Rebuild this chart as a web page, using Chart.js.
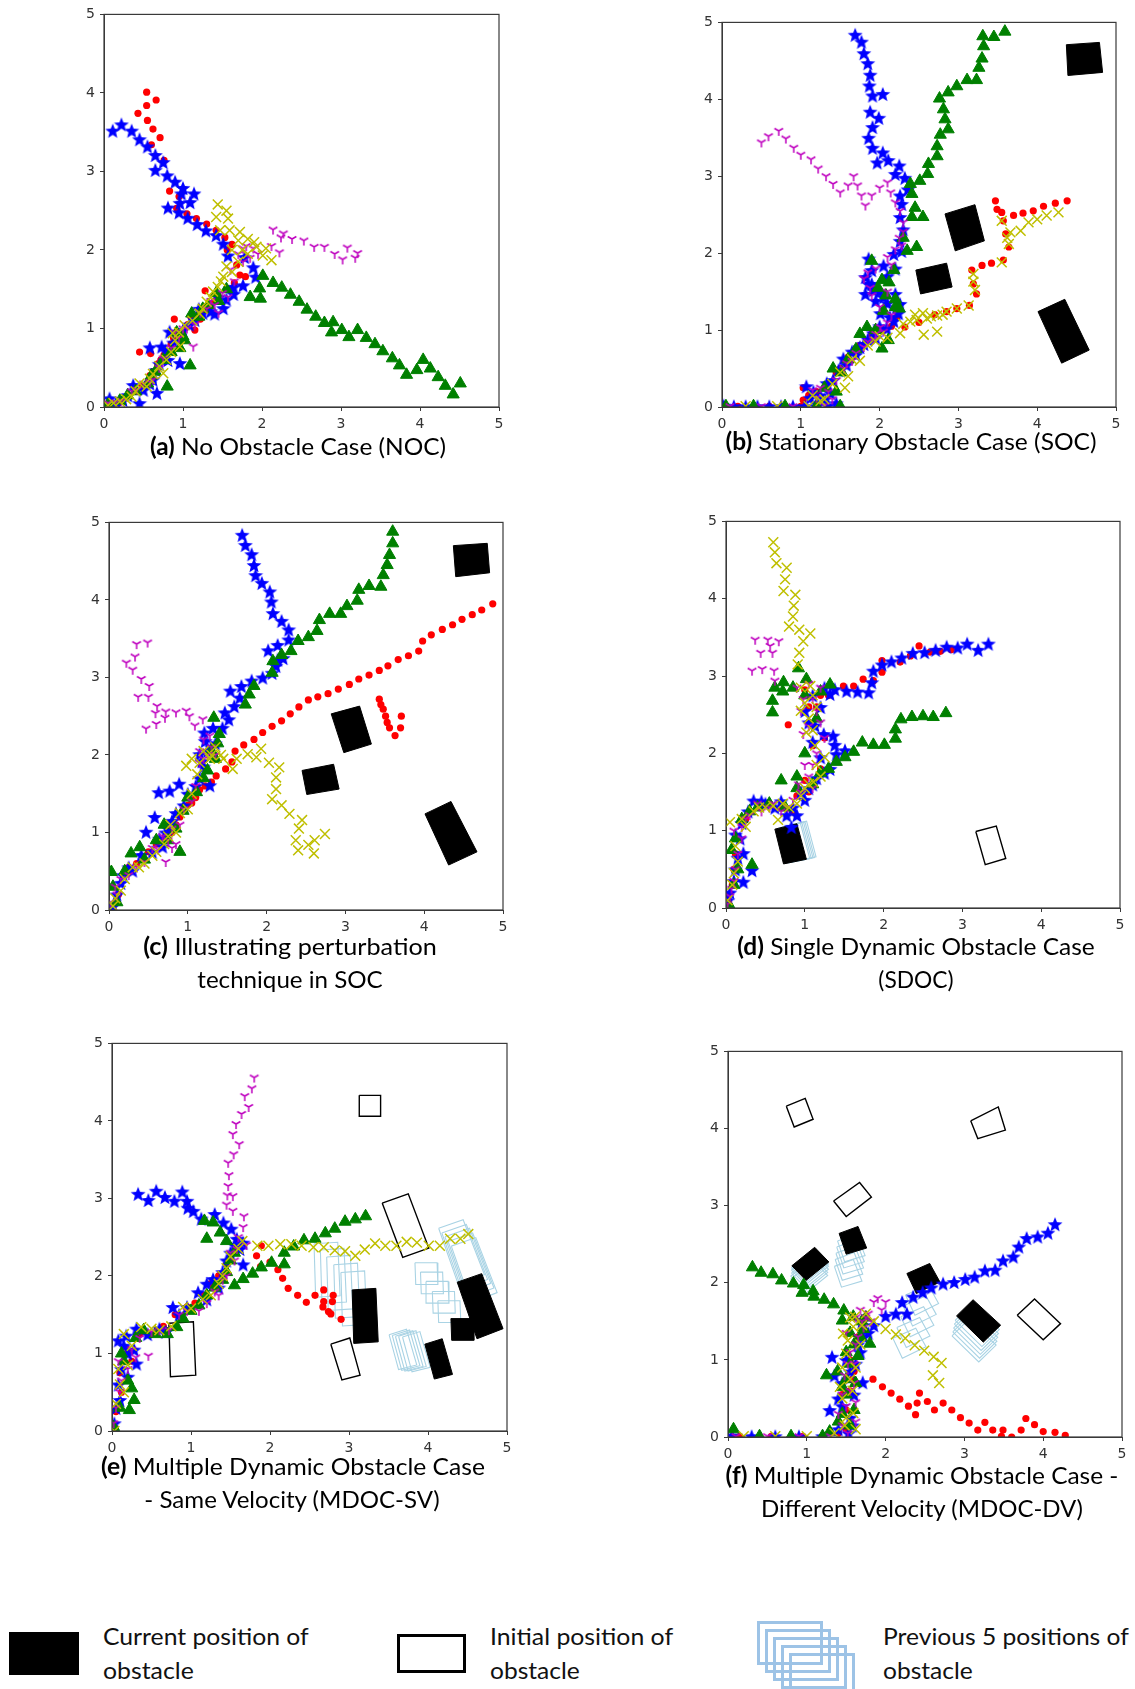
<!DOCTYPE html>
<html>
<head>
<meta charset="utf-8">
<script src="https://cdn.jsdelivr.net/npm/chart.js@4.4.1/dist/chart.umd.min.js"></script>
<style>
  html, body { margin: 0; padding: 0; background: #fff; }
  #page { position: relative; width: 1135px; height: 1689px; overflow: hidden; background: #fff; }
  canvas { position: absolute; }
  .cap, .lg { position: absolute; white-space: nowrap; line-height: 1; color: #000;
    font-family: Lato, 'Open Sans', sans-serif; font-size: 24px; }
  .lg { transform-origin: 0 50%; color: #111; }
  .sw { position: absolute; box-sizing: border-box; }
</style>
</head>
<body>
<div id="page">
  <canvas id="chartA"></canvas>
  <canvas id="chartB"></canvas>
  <canvas id="chartC"></canvas>
  <canvas id="chartD"></canvas>
  <canvas id="chartE"></canvas>
  <canvas id="chartF"></canvas>

  <div class="cap" data-x="298" data-y="446" data-w="296"><b>(a)</b> No Obstacle Case (NOC)</div>
  <div class="cap" data-x="911" data-y="441" data-w="371"><b>(b)</b> Stationary Obstacle Case (SOC)</div>
  <div class="cap" data-x="290" data-y="946" data-w="294"><b>(c)</b> Illustrating perturbation</div>
  <div class="cap" data-x="290" data-y="979" data-w="185">technique in SOC</div>
  <div class="cap" data-x="916" data-y="946" data-w="358"><b>(d)</b> Single Dynamic Obstacle Case</div>
  <div class="cap" data-x="916" data-y="979" data-w="75">(SDOC)</div>
  <div class="cap" data-x="293" data-y="1466" data-w="384"><b>(e)</b> Multiple Dynamic Obstacle Case</div>
  <div class="cap" data-x="292" data-y="1499" data-w="295">- Same Velocity (MDOC-SV)</div>
  <div class="cap" data-x="922" data-y="1475" data-w="393"><b>(f)</b> Multiple Dynamic Obstacle Case -</div>
  <div class="cap" data-x="922" data-y="1508" data-w="322">Different Velocity (MDOC-DV)</div>

  <div class="sw" style="left:9px;top:1632px;width:70px;height:43px;background:#000;"></div>
  <div class="lg" data-x="103" data-y="1636" data-w="206">Current position of</div>
  <div class="lg" data-x="103" data-y="1670" data-w="91">obstacle</div>

  <div class="sw" style="left:397px;top:1634px;width:69px;height:39px;border:3px solid #000;"></div>
  <div class="lg" data-x="490" data-y="1636" data-w="183">Initial position of</div>
  <div class="lg" data-x="490" data-y="1670" data-w="90">obstacle</div>

  <div id="prevIcon"></div>
  <div class="lg" data-x="883" data-y="1636" data-w="246">Previous 5 positions of</div>
  <div class="lg" data-x="883" data-y="1670" data-w="90">obstacle</div>
</div>

<script>
'use strict';

// tick labels shared by every panel
const axisTicks = [0, 1, 2, 3, 4, 5];

// (a) no obstacle
const aRed = [[0.03,0.03],[0.1,0.04],[0.18,0.05],[0.25,0.1],[0.32,0.14],[0.4,0.2],[0.48,0.27],[0.58,0.4],[0.62,0.45],[0.59,0.68],[0.45,0.7],[0.68,0.55],[0.72,0.6],[0.76,0.66],[0.85,0.8],[0.89,1.12],[0.88,0.88],[0.98,0.95],[1.06,1.05],[1.1,1.15],[1.15,0.98],[1.22,1.12],[1.25,1.25],[1.28,1.48],[1.35,1.3],[1.4,1.35],[1.45,1.4],[1.55,1.5],[1.6,1.5],[1.65,1.58],[1.72,1.68],[1.79,1.66],[1.68,1.81],[1.56,2.0],[1.62,2.07],[1.53,2.16],[1.42,2.25],[1.3,2.33],[1.17,2.4],[1.05,2.46],[0.92,2.53],[0.95,2.68],[0.83,2.75],[0.76,3.14],[0.6,3.34],[0.71,3.43],[0.62,3.54],[0.55,3.65],[0.43,3.74],[0.54,3.84],[0.66,3.91],[0.54,4.01]];
const aBlue = [[0.07,0.11],[0.1,0.05],[0.15,0.05],[0.24,0.09],[0.3,0.15],[0.37,0.28],[0.45,0.05],[0.5,0.22],[0.58,0.3],[0.62,0.35],[0.67,0.18],[0.66,0.47],[0.7,0.55],[0.78,0.72],[0.81,0.6],[0.88,0.82],[0.96,0.56],[0.58,0.76],[0.73,0.77],[0.83,0.96],[0.96,0.9],[1.0,0.98],[1.08,1.05],[1.15,1.11],[1.2,1.25],[1.25,1.2],[1.32,1.28],[1.35,1.22],[1.4,1.19],[1.45,1.4],[1.51,1.26],[1.55,1.37],[1.64,1.44],[1.64,1.53],[1.76,1.55],[1.92,1.66],[1.89,1.78],[1.78,1.91],[1.57,1.93],[1.51,2.08],[1.42,2.19],[1.29,2.25],[1.18,2.33],[1.06,2.41],[0.95,2.48],[0.81,2.54],[0.96,2.6],[1.09,2.61],[0.98,2.72],[1.14,2.72],[1.0,2.79],[0.9,2.87],[0.8,2.95],[0.65,3.02],[0.75,3.12],[0.65,3.21],[0.55,3.32],[0.45,3.41],[0.35,3.52],[0.22,3.6],[0.11,3.52]];
const aGreen = [[0.05,0.03],[0.2,0.08],[0.3,0.15],[0.4,0.2],[0.55,0.3],[0.6,0.4],[0.8,0.26],[0.65,0.45],[0.75,0.6],[0.85,0.7],[0.96,0.75],[1.0,0.9],[1.09,0.53],[1.02,0.85],[0.92,0.95],[1.11,1.19],[1.2,1.15],[1.25,1.25],[1.32,1.3],[1.42,1.45],[1.45,1.35],[1.55,1.5],[1.85,1.4],[1.98,1.38],[1.97,1.51],[2.01,1.67],[2.14,1.58],[2.25,1.52],[2.36,1.43],[2.47,1.34],[2.57,1.24],[2.68,1.15],[2.79,1.07],[2.9,1.08],[2.88,0.95],[3.01,0.98],[3.1,0.89],[3.21,0.98],[3.32,0.88],[3.43,0.8],[3.53,0.71],[3.65,0.62],[3.74,0.53],[3.83,0.41],[3.96,0.47],[4.04,0.6],[4.13,0.49],[4.23,0.38],[4.32,0.27],[4.42,0.16],[4.51,0.3]];
const aMagenta = [[0.05,0.05],[0.15,0.06],[0.22,0.08],[0.35,0.2],[0.42,0.22],[0.5,0.3],[0.58,0.32],[0.62,0.35],[0.7,0.5],[0.75,0.62],[0.85,0.75],[0.9,0.95],[0.95,0.88],[1.0,1.0],[1.13,0.77],[1.05,1.0],[1.15,1.05],[1.22,1.2],[1.3,1.25],[1.35,1.35],[1.4,1.3],[1.45,1.2],[1.5,1.45],[1.57,1.4],[1.6,1.75],[1.65,1.6],[1.7,1.95],[1.76,1.85],[1.8,2.05],[1.85,1.9],[1.95,1.95],[1.76,2.02],[1.89,2.02],[2.12,2.05],[2.22,1.97],[2.14,2.26],[2.24,2.16],[2.27,2.21],[2.38,2.14],[2.53,2.12],[2.66,2.04],[2.79,2.04],[2.92,1.95],[3.02,1.88],[3.08,2.03],[3.18,1.9],[3.21,1.96]];
const aYellow = [[0.05,0.02],[0.12,0.05],[0.2,0.07],[0.28,0.1],[0.35,0.13],[0.4,0.2],[0.45,0.3],[0.54,0.26],[0.58,0.36],[0.62,0.42],[0.7,0.52],[0.75,0.43],[0.79,0.6],[0.85,0.7],[0.87,0.94],[0.96,0.77],[0.9,0.85],[0.95,0.95],[1.02,1.04],[1.12,1.1],[1.21,1.19],[1.25,1.25],[1.3,1.34],[1.35,1.4],[1.38,1.47],[1.44,1.53],[1.48,1.6],[1.51,1.66],[1.55,1.79],[1.62,1.72],[1.7,1.85],[1.62,2.0],[1.75,2.0],[1.82,1.95],[1.9,2.1],[1.93,2.04],[2.05,2.02],[2.01,1.93],[2.12,1.87],[1.82,2.14],[1.72,2.23],[1.7,2.12],[1.59,2.25],[1.47,2.25],[1.57,2.4],[1.42,2.42],[1.55,2.5],[1.44,2.58]];

// (b) stationary obstacles
const bRed = [[0.2,0.01],[0.6,0.01],[1.0,0.01],[1.03,0.09],[1.03,0.25],[1.1,0.15],[1.2,0.2],[1.35,0.3],[1.45,0.45],[1.5,0.5],[1.6,0.65],[1.75,0.8],[1.9,0.9],[1.9,0.95],[2.05,1.0],[2.15,1.05],[2.22,1.17],[2.32,1.04],[2.5,1.1],[2.7,1.2],[2.85,1.24],[2.98,1.28],[3.14,1.32],[3.23,1.47],[3.19,1.6],[3.17,1.78],[3.3,1.84],[3.42,1.87],[3.57,1.91],[3.64,2.08],[3.6,2.25],[3.57,2.42],[3.49,2.57],[3.47,2.68],[3.55,2.53],[3.7,2.49],[3.82,2.52],[3.95,2.55],[4.08,2.61],[4.23,2.65],[4.38,2.68]];
const bBlue = [[0.02,0.02],[0.15,0.01],[0.3,0.01],[0.45,0.01],[0.6,0.01],[0.75,0.01],[0.9,0.01],[1.05,0.01],[1.2,0.01],[1.35,0.02],[1.45,0.05],[1.07,0.27],[1.12,0.12],[1.16,0.2],[1.2,0.05],[1.25,0.15],[1.3,0.1],[1.33,0.31],[1.38,0.18],[1.41,0.35],[1.48,0.48],[1.54,0.63],[1.58,0.55],[1.65,0.72],[1.7,0.68],[1.75,0.78],[1.8,0.82],[1.85,0.88],[1.92,0.96],[1.95,0.9],[2.0,1.05],[2.09,1.02],[2.18,1.12],[2.01,1.22],[2.13,1.17],[2.24,1.22],[2.22,1.3],[2.1,1.35],[1.95,1.38],[2.26,1.34],[2.2,1.47],[2.05,1.43],[1.92,1.52],[2.0,1.5],[1.82,1.47],[1.86,1.6],[1.9,1.6],[2.1,1.7],[1.82,1.69],[1.9,1.78],[2.2,1.8],[1.86,1.93],[2.05,1.84],[2.18,1.99],[2.28,2.03],[2.26,2.16],[2.3,2.31],[2.26,2.47],[2.28,2.64],[2.26,2.75],[2.36,2.83],[2.32,2.98],[2.2,3.03],[2.25,3.14],[2.11,3.21],[1.97,3.18],[2.04,3.31],[1.91,3.37],[1.86,3.5],[1.91,3.64],[1.99,3.76],[1.88,3.84],[2.04,4.07],[1.91,4.05],[1.87,4.18],[1.88,4.32],[1.85,4.47],[1.8,4.6],[1.77,4.75],[1.69,4.84]];
const bGreen = [[0.05,0.01],[0.4,0.01],[0.8,0.01],[1.2,0.01],[1.5,0.01],[1.3,0.25],[1.45,0.2],[1.41,0.5],[1.52,0.45],[1.6,0.62],[1.7,0.75],[1.75,0.95],[1.84,1.04],[2.03,0.76],[2.11,0.87],[1.95,1.0],[2.05,1.25],[2.2,1.3],[2.25,1.28],[2.2,1.4],[2.08,1.45],[1.98,1.55],[2.12,1.62],[2.03,1.65],[2.18,1.78],[1.9,1.9],[2.35,2.03],[2.47,2.08],[2.3,2.2],[2.41,2.47],[2.55,2.47],[2.45,2.59],[2.41,2.77],[2.39,2.9],[2.51,2.94],[2.61,3.03],[2.62,3.16],[2.73,3.26],[2.73,3.39],[2.77,3.54],[2.87,3.61],[2.83,3.74],[2.81,3.87],[2.76,4.01],[2.87,4.09],[2.98,4.17],[3.11,4.25],[3.23,4.25],[3.26,4.41],[3.3,4.53],[3.32,4.69],[3.31,4.82],[3.45,4.81],[3.59,4.88]];
const bMagenta = [[0.1,0.01],[0.5,0.01],[0.9,0.01],[1.3,0.02],[1.2,0.12],[1.15,0.22],[1.25,0.25],[1.35,0.2],[1.4,0.1],[1.45,0.35],[1.55,0.5],[1.58,0.57],[1.65,0.6],[1.7,0.7],[1.8,0.78],[1.85,0.85],[1.92,0.88],[2.01,1.04],[1.95,0.95],[2.05,0.98],[2.1,1.1],[2.15,1.2],[2.0,1.3],[1.9,1.45],[1.88,1.55],[2.1,1.5],[1.8,1.67],[1.85,1.75],[1.95,1.8],[2.15,1.85],[2.1,1.95],[2.2,2.05],[2.28,2.1],[2.25,2.2],[2.3,2.28],[2.3,2.4],[2.26,2.55],[2.2,2.66],[2.14,2.79],[2.1,2.92],[2.0,2.85],[1.9,2.75],[1.82,2.62],[1.77,2.75],[1.72,2.88],[1.67,3.0],[1.6,2.88],[1.5,2.79],[1.41,2.9],[1.32,3.0],[1.22,3.1],[1.13,3.22],[1.0,3.28],[0.91,3.37],[0.81,3.49],[0.72,3.59],[0.59,3.52],[0.5,3.44]];
const bYellow = [[0.3,0.01],[0.7,0.01],[1.1,0.01],[1.15,0.15],[1.25,0.08],[1.3,0.1],[1.4,0.3],[1.5,0.45],[1.56,0.25],[1.6,0.4],[1.65,0.62],[1.75,0.6],[1.85,0.8],[1.95,0.85],[2.0,0.92],[2.1,0.9],[2.26,0.96],[2.3,1.08],[2.39,1.11],[2.45,1.2],[2.47,1.13],[2.55,1.22],[2.56,0.94],[2.6,1.15],[2.65,1.18],[2.73,0.98],[2.73,1.19],[2.8,1.2],[2.85,1.24],[2.98,1.28],[3.13,1.32],[3.21,1.52],[3.19,1.63],[3.19,1.73],[3.55,1.88],[3.64,2.12],[3.62,2.2],[3.55,2.42],[3.66,2.27],[3.79,2.29],[3.89,2.4],[4.0,2.44],[4.12,2.49],[4.27,2.53]];
const bCurrent = [
  [[4.37,4.71],[4.79,4.74],[4.83,4.35],[4.39,4.31]],
  [[2.83,2.51],[3.21,2.63],[3.33,2.16],[2.96,2.03]],
  [[2.46,1.78],[2.85,1.87],[2.92,1.56],[2.52,1.47]],
  [[4.01,1.24],[4.35,1.4],[4.66,0.74],[4.31,0.57]]
];

// (c) perturbation in SOC
const cRed = [[0.05,0.02],[0.12,0.2],[0.2,0.45],[0.25,0.55],[0.35,0.6],[0.5,0.75],[0.6,0.85],[0.65,0.9],[0.72,0.95],[0.8,1.0],[0.85,1.1],[0.9,1.2],[1.0,1.35],[1.05,1.38],[1.1,1.45],[1.15,1.55],[1.22,1.6],[1.3,1.65],[1.36,1.73],[1.48,1.82],[1.56,1.91],[1.6,2.05],[1.71,2.13],[1.84,2.2],[1.95,2.29],[2.07,2.37],[2.19,2.44],[2.3,2.53],[2.41,2.62],[2.53,2.71],[2.65,2.75],[2.78,2.79],[2.91,2.85],[3.05,2.91],[3.17,2.98],[3.3,3.03],[3.43,3.09],[3.54,3.15],[3.67,3.23],[3.8,3.28],[3.93,3.34],[3.98,3.47],[4.09,3.55],[4.23,3.62],[4.36,3.68],[4.48,3.75],[4.61,3.81],[4.73,3.87],[4.87,3.95],[3.43,2.72],[3.45,2.65],[3.48,2.59],[3.51,2.5],[3.53,2.42],[3.56,2.35],[3.63,2.25],[3.71,2.5],[3.7,2.35]];
const cBlue = [[0.05,0.05],[0.1,0.2],[0.15,0.35],[0.18,0.45],[0.25,0.55],[0.3,0.51],[0.41,0.71],[0.55,0.75],[0.68,0.82],[0.47,1.01],[0.64,0.92],[0.72,1.0],[0.58,1.2],[0.75,1.05],[0.8,1.15],[0.85,1.25],[0.95,1.35],[0.63,1.52],[0.77,1.54],[0.89,1.63],[1.0,1.5],[1.1,1.6],[1.15,1.7],[1.28,1.61],[1.2,1.85],[1.18,1.92],[1.15,2.01],[1.25,2.05],[1.3,2.1],[1.35,2.15],[1.22,2.18],[1.21,2.29],[1.32,2.35],[1.44,2.35],[1.52,2.46],[1.47,2.55],[1.59,2.63],[1.66,2.74],[1.54,2.83],[1.68,2.89],[1.81,2.96],[1.95,3.0],[2.07,3.06],[2.12,3.15],[2.21,3.25],[2.14,3.23],[2.02,3.35],[2.14,3.42],[2.28,3.49],[2.28,3.62],[2.19,3.73],[2.08,3.83],[2.06,3.98],[2.04,4.11],[1.94,4.22],[1.86,4.32],[1.84,4.45],[1.81,4.59],[1.73,4.71],[1.69,4.84]];
const cGreen = [[0.03,0.49],[0.05,0.3],[0.1,0.1],[0.2,0.5],[0.28,0.73],[0.39,0.81],[0.45,0.65],[0.6,0.9],[0.75,0.9],[0.9,0.75],[0.7,1.1],[0.85,1.05],[0.94,1.28],[1.0,1.45],[1.11,1.52],[1.2,1.7],[1.25,1.8],[1.35,1.95],[1.3,2.05],[1.38,2.15],[1.4,2.27],[1.33,2.48],[1.73,2.65],[1.78,2.78],[1.84,2.89],[2.07,3.06],[2.08,3.21],[2.19,3.29],[2.31,3.34],[2.4,3.47],[2.53,3.52],[2.64,3.6],[2.67,3.74],[2.8,3.82],[2.94,3.82],[3.02,3.92],[3.15,3.99],[3.17,4.13],[3.3,4.18],[3.45,4.17],[3.48,4.32],[3.53,4.45],[3.56,4.58],[3.6,4.73],[3.6,4.88]];
const cMagenta = [[0.02,0.1],[0.1,0.2],[0.08,0.3],[0.15,0.4],[0.25,0.45],[0.35,0.55],[0.45,0.62],[0.55,0.8],[0.62,0.78],[0.72,0.62],[0.68,0.95],[0.75,0.9],[0.8,1.05],[0.8,0.8],[0.85,0.85],[0.9,1.1],[0.95,1.3],[1.05,1.4],[1.1,1.6],[1.15,1.9],[1.2,1.95],[1.25,2.0],[1.35,2.0],[1.3,2.1],[1.15,2.05],[1.28,2.25],[1.2,2.2],[1.19,2.46],[1.09,2.38],[1.02,2.5],[0.98,2.57],[0.85,2.55],[0.72,2.56],[0.71,2.48],[0.6,2.4],[0.47,2.34],[0.59,2.54],[0.61,2.63],[0.5,2.75],[0.37,2.75],[0.51,2.89],[0.41,2.98],[0.3,3.1],[0.22,3.19],[0.33,3.27],[0.35,3.43],[0.49,3.45]];
const cYellow = [[0.05,0.05],[0.08,0.15],[0.15,0.25],[0.2,0.4],[0.3,0.55],[0.38,0.55],[0.45,0.6],[0.55,0.7],[0.6,0.75],[0.7,0.85],[0.75,0.95],[0.78,1.1],[0.85,1.0],[0.9,1.25],[1.0,1.3],[1.05,1.5],[1.12,1.75],[1.05,1.95],[0.98,1.86],[1.15,1.9],[1.2,2.05],[1.28,1.95],[1.3,2.0],[1.35,2.1],[1.42,2.0],[1.45,1.95],[1.57,1.82],[1.62,1.95],[1.76,2.01],[1.87,1.97],[1.93,2.08],[2.03,1.9],[2.16,1.84],[2.12,1.71],[2.12,1.56],[2.07,1.43],[2.19,1.35],[2.29,1.24],[2.45,1.16],[2.41,1.05],[2.37,0.9],[2.4,0.77],[2.53,0.84],[2.61,0.9],[2.6,0.73],[2.74,0.98]];
const cCurrent = [
  [[4.37,4.7],[4.8,4.73],[4.83,4.35],[4.4,4.3]],
  [[2.82,2.53],[3.18,2.63],[3.33,2.14],[2.98,2.03]],
  [[2.45,1.8],[2.85,1.88],[2.92,1.56],[2.51,1.49]],
  [[4.01,1.24],[4.34,1.4],[4.67,0.75],[4.31,0.58]]
];

// (d) single dynamic obstacle
const dRed = [[0.03,0.1],[0.08,0.3],[0.1,0.5],[0.12,0.7],[0.15,0.9],[0.25,1.15],[0.3,1.25],[0.45,1.32],[0.55,1.35],[0.7,1.3],[0.85,1.25],[0.9,1.45],[1.0,1.65],[1.05,1.5],[1.2,1.8],[1.1,2.1],[1.25,2.2],[1.05,2.4],[0.79,2.37],[1.05,2.6],[1.15,2.6],[1.2,2.75],[1.3,2.75],[1.0,2.82],[1.49,2.87],[1.62,2.87],[1.74,2.96],[1.87,2.94],[1.98,3.05],[1.98,3.2],[2.21,3.18],[2.34,3.26],[2.45,3.39],[2.59,3.31],[2.72,3.32],[2.86,3.34]];
const dBlue = [[0.02,0.1],[0.05,0.2],[0.1,0.35],[0.12,0.5],[0.22,0.34],[0.33,0.49],[0.15,0.65],[0.22,0.71],[0.18,0.9],[0.12,0.95],[0.2,1.1],[0.28,1.25],[0.35,1.39],[0.45,1.38],[0.5,1.35],[0.62,1.3],[0.7,1.38],[0.85,1.3],[0.77,1.2],[0.83,1.05],[0.9,1.2],[0.95,1.5],[1.0,1.4],[1.05,1.55],[1.1,1.6],[1.15,1.68],[1.25,1.75],[1.32,1.8],[1.2,1.95],[1.4,1.99],[1.51,2.04],[1.38,2.11],[1.1,2.15],[1.36,2.23],[1.24,2.25],[1.13,2.36],[1.05,2.4],[1.0,2.55],[1.2,2.6],[1.1,2.75],[1.32,2.77],[1.25,2.85],[1.38,2.83],[1.53,2.81],[1.67,2.8],[1.81,2.79],[1.85,2.92],[1.87,3.07],[1.98,3.15],[2.1,3.19],[2.23,3.24],[2.37,3.3],[2.52,3.31],[2.66,3.34],[2.8,3.38],[2.94,3.37],[3.06,3.42],[3.2,3.34],[3.33,3.42]];
const dGreen = [[0.05,0.02],[0.1,0.3],[0.15,0.5],[0.07,0.75],[0.12,0.9],[0.33,0.56],[0.2,1.15],[0.3,1.25],[0.4,1.3],[0.55,1.35],[0.75,1.3],[0.9,1.55],[0.7,1.65],[0.9,1.7],[1.1,1.6],[1.2,1.75],[1.3,1.8],[1.0,2.0],[1.4,1.89],[1.51,1.95],[1.62,2.02],[1.73,2.14],[1.87,2.11],[2.01,2.11],[2.15,2.19],[2.15,2.31],[2.22,2.44],[2.36,2.47],[2.5,2.48],[2.63,2.47],[2.79,2.52],[1.15,2.45],[1.0,2.75],[0.85,2.85],[0.59,2.53],[0.59,2.68],[0.62,2.85],[0.73,2.92],[0.72,2.8],[0.92,3.1],[1.02,2.96],[1.32,2.89],[1.2,2.8]];
const dMagenta = [[0.02,0.05],[0.05,0.15],[0.07,0.25],[0.1,0.35],[0.12,0.5],[0.15,0.7],[0.2,0.9],[0.1,1.0],[0.2,1.05],[0.25,1.15],[0.3,1.2],[0.4,1.35],[0.45,1.25],[0.55,1.3],[0.6,1.35],[0.7,1.25],[0.78,1.3],[0.85,1.4],[0.95,1.5],[0.92,1.6],[1.1,1.55],[1.05,1.7],[1.0,1.85],[1.1,1.85],[1.15,2.0],[1.25,2.2],[0.98,2.25],[1.05,2.35],[1.2,2.4],[0.95,2.55],[1.15,2.55],[0.98,2.7],[1.1,2.7],[0.9,2.85],[1.05,2.9],[1.2,2.85],[0.62,2.94],[0.61,3.07],[0.33,3.07],[0.46,3.09],[0.59,3.3],[0.44,3.3],[0.56,3.39],[0.37,3.47],[0.53,3.47],[0.67,3.45]];
const dYellow = [[0.02,0.1],[0.08,0.3],[0.1,0.45],[0.15,0.6],[0.12,0.8],[0.25,1.05],[0.05,1.11],[0.2,1.15],[0.35,1.25],[0.42,1.3],[0.5,1.3],[0.6,1.32],[0.66,1.14],[0.72,1.35],[0.8,1.3],[0.9,1.35],[0.95,1.45],[1.0,1.55],[1.05,1.6],[1.11,1.63],[1.2,1.7],[1.15,1.85],[1.25,1.95],[1.13,2.1],[1.02,2.27],[1.1,2.3],[1.05,2.45],[0.95,2.55],[1.15,2.6],[1.0,2.65],[1.07,2.87],[1.1,2.75],[0.95,2.85],[0.91,3.15],[0.93,3.3],[0.98,3.45],[1.07,3.55],[0.93,3.6],[0.8,3.64],[0.85,3.77],[0.86,3.91],[0.88,4.05],[0.73,4.1],[0.75,4.25],[0.77,4.4],[0.64,4.46],[0.62,4.6],[0.6,4.73]];
const dCurrent = [[[0.62,1.02],[0.9,1.09],[1.02,0.63],[0.73,0.57]]];
const dInitial = [[[3.17,0.99],[3.43,1.06],[3.55,0.64],[3.29,0.56]]];
const dPrevCenters = [[[0.94,0.86],[0.92,0.85],[0.9,0.85],[0.88,0.84],[0.86,0.84]]];

// (e) multiple dynamic obstacles, same velocity
const eRed = [[0.03,0.05],[0.05,0.25],[0.12,0.5],[0.1,0.75],[0.25,0.9],[0.2,1.05],[0.35,1.25],[0.5,1.25],[0.65,1.35],[0.8,1.5],[0.95,1.6],[1.05,1.65],[1.15,1.75],[1.25,1.9],[1.35,2.0],[1.45,2.15],[1.5,2.25],[1.6,2.35],[1.89,2.39],[1.83,2.26],[1.88,2.12],[2.0,2.18],[2.1,2.08],[2.16,1.97],[2.23,1.84],[2.35,1.75],[2.46,1.66],[2.57,1.75],[2.68,1.82],[2.8,1.75],[2.68,1.67],[2.79,1.67],[2.67,1.6],[2.74,1.54],[2.77,1.51],[2.9,1.44]];
const eBlue = [[0.03,0.1],[0.05,0.3],[0.1,0.4],[0.08,0.6],[0.2,0.7],[0.12,0.8],[0.31,0.87],[0.2,1.0],[0.28,1.05],[0.15,1.1],[0.08,1.17],[0.18,1.23],[0.31,1.32],[0.45,1.25],[0.6,1.32],[0.68,1.28],[0.77,1.6],[0.85,1.5],[0.95,1.6],[1.09,1.79],[1.2,1.7],[1.2,1.9],[1.28,1.96],[1.35,1.85],[1.4,2.05],[1.45,2.2],[1.5,2.3],[1.66,2.15],[1.55,2.4],[1.62,2.35],[1.58,2.48],[1.66,2.43],[1.51,2.61],[1.41,2.69],[1.3,2.8],[1.13,2.74],[1.03,2.84],[0.96,2.88],[0.95,2.97],[0.89,3.09],[0.79,2.97],[0.67,3.02],[0.56,3.1],[0.46,2.98],[0.33,3.06]];
const eGreen = [[0.02,0.05],[0.1,0.3],[0.22,0.27],[0.28,0.4],[0.25,0.55],[0.2,0.65],[0.15,0.9],[0.12,1.0],[0.3,1.2],[0.4,1.3],[0.55,1.25],[0.7,1.25],[0.82,1.34],[0.9,1.45],[1.0,1.55],[1.1,1.62],[1.2,1.75],[1.3,1.85],[1.4,1.95],[1.45,2.05],[1.5,2.2],[1.55,2.3],[1.55,1.88],[1.66,1.96],[1.78,2.03],[1.89,2.11],[2.02,2.17],[2.18,2.15],[2.18,2.3],[2.3,2.38],[2.43,2.46],[2.57,2.48],[2.7,2.55],[2.82,2.61],[2.95,2.7],[3.08,2.73],[3.21,2.77],[1.28,2.69],[1.17,2.71],[1.2,2.48],[1.37,2.56],[1.45,2.45]];
const eMagenta = [[0.02,0.1],[0.05,0.3],[0.1,0.5],[0.12,0.65],[0.2,0.8],[0.08,0.9],[0.3,0.95],[0.46,0.97],[0.25,1.05],[0.35,1.2],[0.5,1.28],[0.6,1.3],[0.72,1.3],[0.85,1.5],[0.95,1.55],[1.1,1.55],[1.2,1.65],[1.3,1.8],[1.35,1.75],[1.4,1.95],[1.45,2.0],[1.55,2.2],[1.5,2.3],[1.58,2.35],[1.6,2.5],[1.7,2.4],[1.66,2.63],[1.67,2.77],[1.53,2.84],[1.45,2.92],[1.53,3.03],[1.46,3.04],[1.47,3.16],[1.48,3.3],[1.47,3.46],[1.54,3.57],[1.61,3.7],[1.53,3.83],[1.57,3.96],[1.64,4.09],[1.73,4.18],[1.68,4.32],[1.77,4.42],[1.8,4.56]];
const eYellow = [[0.03,0.0],[0.05,0.35],[0.15,0.5],[0.1,0.6],[0.08,0.8],[0.2,0.85],[0.25,1.1],[0.15,1.25],[0.37,1.34],[0.5,1.32],[0.6,1.3],[0.75,1.35],[0.9,1.6],[1.0,1.58],[1.15,1.7],[1.25,1.75],[1.35,1.9],[1.4,2.0],[1.45,2.1],[1.5,2.25],[1.6,2.35],[1.65,2.45],[1.84,2.39],[1.98,2.39],[2.13,2.41],[2.27,2.41],[2.4,2.39],[2.55,2.37],[2.68,2.37],[2.82,2.33],[2.95,2.32],[3.08,2.26],[3.2,2.34],[3.33,2.42],[3.46,2.39],[3.6,2.39],[3.73,2.44],[3.86,2.43],[4.01,2.39],[4.15,2.39],[4.28,2.48],[4.41,2.48],[4.51,2.54]];
const eCurrent = [
  [[3.04,1.82],[3.34,1.84],[3.37,1.15],[3.06,1.13]],
  [[3.96,1.12],[4.18,1.19],[4.31,0.73],[4.08,0.67]],
  [[4.37,1.92],[4.68,2.03],[4.95,1.32],[4.62,1.19]],
  [[4.29,1.45],[4.57,1.45],[4.58,1.17],[4.3,1.17]]
];
const eInitial = [
  [[0.72,1.39],[1.03,1.41],[1.06,0.72],[0.74,0.7]],
  [[3.13,4.33],[3.4,4.33],[3.4,4.06],[3.13,4.06]],
  [[3.42,2.94],[3.75,3.06],[4.01,2.36],[3.68,2.24]],
  [[2.77,1.12],[3.01,1.2],[3.14,0.72],[2.91,0.66]]
];
const ePrevCenters = [
  [[2.72,2.08],[2.8,2.0],[2.88,1.91],[2.97,1.81],[3.06,1.71]],
  [[3.68,1.05],[3.72,1.04],[3.76,1.03],[3.8,1.03],[3.85,1.02]],
  [[4.42,2.31],[4.46,2.25],[4.5,2.2],[4.54,2.14],[4.58,2.08]],
  [[3.98,2.03],[4.05,1.91],[4.12,1.79],[4.2,1.66],[4.27,1.54]]
];

// (f) multiple dynamic obstacles, different velocity
const fRed = [[0.15,0.01],[0.55,0.01],[0.95,0.01],[1.4,0.05],[1.5,0.1],[1.5,0.35],[1.45,0.55],[1.55,0.6],[1.58,0.75],[1.6,0.85],[1.55,1.0],[1.65,1.3],[1.84,0.75],[1.96,0.65],[2.07,0.57],[2.18,0.49],[2.29,0.4],[2.38,0.29],[2.4,0.44],[2.43,0.57],[2.53,0.46],[2.62,0.35],[2.73,0.44],[2.84,0.35],[2.95,0.25],[3.06,0.18],[3.17,0.09],[3.26,0.19],[3.36,0.09],[3.47,0.01],[3.49,0.09],[3.6,0.0],[3.72,0.09],[3.78,0.24],[3.89,0.16],[4.0,0.07],[4.15,0.06],[4.28,0.02]];
const fBlue = [[0.05,0.02],[0.3,0.01],[0.6,0.01],[0.9,0.01],[1.2,0.01],[1.4,0.1],[1.53,0.05],[1.58,0.15],[1.55,0.25],[1.29,0.35],[1.4,0.5],[1.45,0.4],[1.6,0.55],[1.45,0.7],[1.35,0.8],[1.55,0.85],[1.62,0.95],[1.32,1.04],[1.5,1.0],[1.68,1.1],[1.71,0.71],[1.65,1.2],[1.72,1.3],[1.78,1.35],[1.7,1.5],[1.85,1.45],[2.0,1.57],[2.13,1.6],[2.27,1.6],[2.21,1.75],[2.35,1.82],[2.47,1.88],[2.58,1.94],[2.73,1.99],[2.87,2.01],[3.01,2.05],[3.13,2.08],[3.26,2.16],[3.39,2.17],[3.49,2.29],[3.62,2.34],[3.69,2.47],[3.79,2.58],[3.93,2.6],[4.06,2.65],[4.15,2.76]];
const fGreen = [[0.07,0.1],[0.4,0.01],[0.8,0.01],[1.2,0.01],[1.29,0.07],[1.4,0.2],[1.55,0.15],[1.45,0.3],[1.6,0.35],[1.5,0.55],[1.45,0.65],[1.62,0.7],[1.5,0.75],[1.25,0.8],[1.39,0.85],[1.55,0.95],[1.65,1.05],[1.5,1.1],[1.6,1.2],[1.68,1.3],[1.55,1.35],[1.72,1.4],[1.8,1.21],[1.7,1.5],[1.75,1.55],[1.45,1.51],[1.59,1.56],[1.47,1.64],[1.34,1.72],[1.22,1.78],[1.09,1.82],[1.08,1.89],[0.94,1.87],[0.96,1.97],[0.83,1.99],[0.68,2.03],[0.57,2.11],[0.42,2.13],[0.31,2.2]];
const fMagenta = [[0.1,0.01],[0.5,0.01],[0.9,0.01],[1.3,0.01],[1.52,0.05],[1.45,0.15],[1.62,0.2],[1.4,0.3],[1.5,0.4],[1.62,0.45],[1.45,0.55],[1.55,0.6],[1.6,0.7],[1.48,0.8],[1.6,0.95],[1.52,0.95],[1.55,1.1],[1.62,1.2],[1.65,1.3],[1.5,1.35],[1.72,1.42],[1.7,1.5],[1.82,1.5],[1.62,1.55],[1.78,1.6],[1.68,1.65],[1.85,1.75],[1.95,1.65],[2.0,1.75],[1.9,1.8],[1.75,1.55]];
const fYellow = [[0.2,0.01],[0.6,0.01],[1.0,0.01],[1.35,0.05],[1.48,0.15],[1.62,0.1],[1.5,0.25],[1.59,0.31],[1.45,0.5],[1.58,0.6],[1.42,0.65],[1.55,0.75],[1.45,0.9],[1.62,0.9],[1.5,1.08],[1.68,1.2],[1.52,1.25],[1.46,1.34],[1.59,1.43],[1.55,1.55],[1.61,1.56],[1.7,1.45],[1.75,1.6],[1.85,1.5],[2.0,1.4],[2.13,1.33],[2.25,1.28],[2.37,1.19],[2.49,1.12],[2.61,1.04],[2.71,0.96],[2.6,0.8],[2.68,0.7]];
const fCurrent = [
  [[0.81,2.22],[1.1,2.46],[1.28,2.27],[0.99,2.03]],
  [[1.41,2.64],[1.65,2.73],[1.76,2.45],[1.5,2.37]],
  [[2.27,2.12],[2.56,2.25],[2.69,2.01],[2.39,1.86]],
  [[2.9,1.57],[3.11,1.78],[3.46,1.45],[3.24,1.23]]
];
const fInitial = [
  [[0.74,4.29],[0.98,4.39],[1.08,4.12],[0.84,4.02]],
  [[3.08,4.1],[3.43,4.28],[3.52,3.98],[3.17,3.87]],
  [[1.34,3.06],[1.67,3.3],[1.82,3.11],[1.5,2.86]],
  [[3.67,1.58],[3.89,1.79],[4.22,1.47],[4.0,1.26]]
];
const fPrevCenters = [
  [[1.03,2.07],[1.03,2.11],[1.04,2.15],[1.04,2.19],[1.04,2.22]],
  [[1.52,2.12],[1.53,2.21],[1.54,2.29],[1.55,2.37],[1.56,2.45]],
  [[2.3,1.22],[2.35,1.36],[2.4,1.5],[2.43,1.64],[2.46,1.78]],
  [[3.12,1.25],[3.13,1.3],[3.14,1.35],[3.15,1.4],[3.16,1.45]]
];

// ---------------------------------------------------------------
Chart.defaults.font.family = "'DejaVu Sans', sans-serif";

const AXIS_COLOR = '#3a3a3a';
const PREV_COLOR = '#a9d3e4';
const PAD_L = 40, PAD_T = 12, PAD_R = 12, PAD_B = 30;

// marker images for the star and tri_down markers
function markerCanvas(size, draw) {
  const c = document.createElement('canvas');
  c.width = size;
  c.height = size;
  const g = c.getContext('2d');
  g.translate(size / 2, size / 2);
  draw(g, size / 2);
  return c;
}

const starMark = markerCanvas(16, (g, r) => {
  g.beginPath();
  for (let i = 0; i < 10; i++) {
    const rr = i % 2 ? r * 0.42 : r * 0.98;
    const a = -Math.PI / 2 + i * Math.PI / 5;
    g.lineTo(Math.cos(a) * rr, Math.sin(a) * rr + 0.8);
  }
  g.closePath();
  g.fillStyle = '#0000ff';
  g.fill();
});

const triMark = markerCanvas(12, (g, r) => {
  const s = r - 1;
  g.strokeStyle = '#bf00bf';
  g.lineWidth = 1.5;
  g.beginPath();
  g.moveTo(0, 0); g.lineTo(0, s);
  g.moveTo(0, 0); g.lineTo(-0.866 * s, -0.5 * s);
  g.moveTo(0, 0); g.lineTo(0.866 * s, -0.5 * s);
  g.stroke();
});

const agentStyles = {
  red: { pointStyle: 'circle', pointRadius: 3.6, backgroundColor: '#ff0000', borderColor: '#ff0000', borderWidth: 0, order: 4 },
  blue: { pointStyle: starMark, pointRadius: 7, order: 3 },
  green: { pointStyle: 'triangle', pointRadius: 7, backgroundColor: '#008000', borderColor: '#008000', borderWidth: 1, order: 2 },
  magenta: { pointStyle: triMark, pointRadius: 6, order: 1 },
  yellow: { pointStyle: 'crossRot', pointRadius: 7, borderColor: '#bfbf00', backgroundColor: '#bfbf00', borderWidth: 1.5, order: 0 }
};

const toXY = pts => pts.map(([x, y]) => ({ x, y }));

function pointSet(pts, kind) {
  return Object.assign({ data: toXY(pts), showLine: false }, agentStyles[kind]);
}

function polySet(corners, kind) {
  const closed = toXY(corners.concat([corners[0]]));
  const base = { type: 'line', data: closed, pointRadius: 0, tension: 0, borderJoinStyle: 'miter' };
  if (kind === 'current') {
    return Object.assign(base, { borderColor: '#000', backgroundColor: '#000', borderWidth: 1, fill: 'shape', order: 8 });
  }
  if (kind === 'initial') {
    return Object.assign(base, { borderColor: '#000', borderWidth: 1.4, fill: false, order: 9 });
  }
  return Object.assign(base, { borderColor: PREV_COLOR, borderWidth: 1.1, fill: false, order: 10 });
}

function centroid(c) {
  let sx = 0, sy = 0;
  c.forEach(([x, y]) => { sx += x; sy += y; });
  return [sx / c.length, sy / c.length];
}

function moveTo(corners, center) {
  const [cx, cy] = centroid(corners);
  return corners.map(([x, y]) => [x - cx + center[0], y - cy + center[1]]);
}

const framePlugin = {
  id: 'frame',
  afterDatasetsDraw(chart) {
    const { ctx, chartArea: a } = chart;
    ctx.save();
    ctx.strokeStyle = AXIS_COLOR;
    ctx.lineWidth = 1.2;
    ctx.strokeRect(a.left, a.top, a.right - a.left, a.bottom - a.top);
    ctx.restore();
  }
};

function axis(afterFit) {
  return {
    type: 'linear',
    min: 0,
    max: 5,
    afterBuildTicks: s => { s.ticks = axisTicks.map(v => ({ value: v })); },
    afterFit,
    ticks: { color: '#333', font: { size: 14 }, padding: 5 },
    grid: { drawOnChartArea: false, drawTicks: true, tickLength: 4, color: AXIS_COLOR },
    border: { color: AXIS_COLOR, width: 1 }
  };
}

function makePanel(id, area, agents, obstacles) {
  const [l, t, r, b] = area;
  const cv = document.getElementById(id);
  const w = r - l + PAD_L + PAD_R;
  const h = b - t + PAD_T + PAD_B;
  cv.width = w;
  cv.height = h;
  cv.style.width = w + 'px';
  cv.style.height = h + 'px';
  cv.style.left = (l - PAD_L) + 'px';
  cv.style.top = (t - PAD_T) + 'px';

  const datasets = [];
  Object.keys(agents).forEach(k => datasets.push(pointSet(agents[k], k)));
  const ob = obstacles || {};
  (ob.current || []).forEach((c, i) => {
    if (ob.prev && ob.prev[i]) {
      ob.prev[i].forEach(ctr => datasets.push(polySet(moveTo(c, ctr), 'prev')));
    }
    datasets.push(polySet(c, 'current'));
  });
  (ob.initial || []).forEach(c => datasets.push(polySet(c, 'initial')));

  return new Chart(cv, {
    type: 'scatter',
    data: { datasets },
    options: {
      responsive: false,
      animation: false,
      events: [],
      layout: { padding: { left: 0, top: PAD_T, right: PAD_R, bottom: 0 } },
      plugins: { legend: { display: false }, tooltip: { enabled: false } },
      scales: {
        x: axis(s => { s.height = PAD_B; }),
        y: axis(s => { s.width = PAD_L; })
      }
    },
    plugins: [framePlugin]
  });
}

makePanel('chartA', [104, 13, 499, 407],
  { red: aRed, blue: aBlue, green: aGreen, magenta: aMagenta, yellow: aYellow });
makePanel('chartB', [722, 21, 1116, 407],
  { red: bRed, blue: bBlue, green: bGreen, magenta: bMagenta, yellow: bYellow },
  { current: bCurrent });
makePanel('chartC', [109, 521, 503, 910],
  { red: cRed, blue: cBlue, green: cGreen, magenta: cMagenta, yellow: cYellow },
  { current: cCurrent });
makePanel('chartD', [726, 520, 1120, 908],
  { red: dRed, blue: dBlue, green: dGreen, magenta: dMagenta, yellow: dYellow },
  { current: dCurrent, initial: dInitial, prev: dPrevCenters });
makePanel('chartE', [112, 1042, 507, 1431],
  { red: eRed, blue: eBlue, green: eGreen, magenta: eMagenta, yellow: eYellow },
  { current: eCurrent, initial: eInitial, prev: ePrevCenters });
makePanel('chartF', [728, 1050, 1122, 1437],
  { red: fRed, blue: fBlue, green: fGreen, magenta: fMagenta, yellow: fYellow },
  { current: fCurrent, initial: fInitial, prev: fPrevCenters });

// legend icon: five stacked outlines
const icon = document.getElementById('prevIcon');
for (let i = 0; i < 5; i++) {
  const d = document.createElement('div');
  d.className = 'sw';
  d.style.cssText = `left:${757 + i * 8}px;top:${1621 + i * 8}px;width:66px;height:44px;border:3px solid #9dc3e6;`;
  icon.appendChild(d);
}

// fit caption and legend text to the widths of the original
function fitText() {
  document.querySelectorAll('.cap').forEach(el => {
    el.style.transform = 'none';
    const k = +el.dataset.w / el.offsetWidth;
    el.style.left = el.dataset.x + 'px';
    el.style.top = el.dataset.y + 'px';
    el.style.transform = `translate(-50%, -50%) scaleX(${k})`;
  });
  document.querySelectorAll('.lg').forEach(el => {
    el.style.transform = 'none';
    const k = +el.dataset.w / el.offsetWidth;
    el.style.left = el.dataset.x + 'px';
    el.style.top = el.dataset.y + 'px';
    el.style.transform = `translateY(-50%) scaleX(${k})`;
  });
}
fitText();
if (document.fonts && document.fonts.ready) document.fonts.ready.then(fitText);
</script>
</body>
</html>
